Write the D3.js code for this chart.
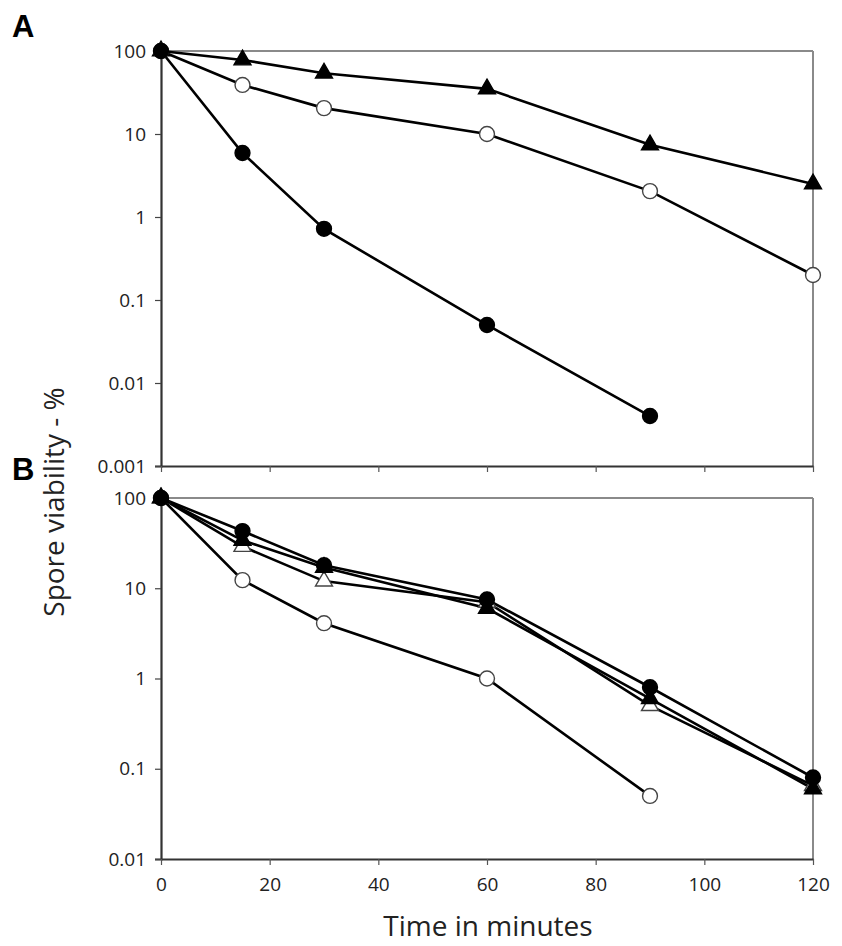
<!DOCTYPE html>
<html>
<head>
<meta charset="utf-8">
<script src="https://cdn.jsdelivr.net/npm/d3@7"></script>
<style>
	body { margin: 0; background: #fff; }
	svg text { font-family: "Open Sans", "Noto Sans", sans-serif; fill: #222; }
	.panel-label { font-family: "Liberation Sans", Arial, sans-serif; font-weight: bold; fill: #000; }
</style>
</head>
<body>
<svg id="chart" width="842" height="946"></svg>
<script>
// time points (minutes)
var times = [0, 15, 30, 60, 90, 120];

// panel A, % viability
var aTriangle = [100, 78, 54, 35, 7.4, 2.5];
var aOpenCircle = [100, 39, 20.5, 10, 2.05, 0.2];
var aFilledCircle = [100, 5.9, 0.72, 0.05, 0.004];

// panel B, % viability
var bOpenCircle = [100, 12.3, 4.1, 1, 0.05];
var bOpenTriangle = [100, 29, 12, 7, 0.5, 0.065];
var bFilledTriangle = [100, 34, 17, 6, 0.6, 0.06];
var bFilledCircle = [100, 43, 18, 7.5, 0.8, 0.08];

var xTicks = [0, 20, 40, 60, 80, 100, 120];
var aTickLabels = ['100', '10', '1', '0.1', '0.01', '0.001'];
var bTickLabels = ['100', '10', '1', '0.1', '0.01'];

(function(d3) {
	'use strict';

	var svg = d3.select('#chart');
	var x = d3.scaleLinear().domain([0, 120]).range([161, 813]);

	var pair = function(values) {
		return values.map(function(v, i) { return [times[i], v]; });
	};

	var drawPanel = function(cfg) {
		var y = d3.scaleLog().domain(cfg.domain).range([cfg.bottom, cfg.top]);
		var g = svg.append('g');

		// grey frame on top and right
		g.append('line').attr('x1', x(0)).attr('x2', x(120)).attr('y1', cfg.top).attr('y2', cfg.top)
			.attr('stroke', '#8a8a8a').attr('stroke-width', 2);
		g.append('line').attr('x1', x(120)).attr('x2', x(120)).attr('y1', cfg.top).attr('y2', cfg.bottom)
			.attr('stroke', '#8a8a8a').attr('stroke-width', 2);

		var yAxis = d3.axisLeft(y).tickValues(cfg.labels.map(Number)).tickSize(6).tickPadding(9)
			.tickFormat(function(d, i) { return cfg.labels[i]; });
		var ya = g.append('g').attr('transform', 'translate(' + x(0) + ',0)').call(yAxis);
		ya.select('.domain').attr('stroke', '#333').attr('stroke-width', 2.2);
		ya.selectAll('.tick line').attr('stroke', '#444').attr('stroke-width', 1.2);
		ya.selectAll('text').style('font-size', '19px').attr('fill', '#111');

		var xAxis = d3.axisBottom(x).tickValues(xTicks).tickSize(6).tickPadding(13)
			.tickSizeOuter(0);
		if (!cfg.xLabels) xAxis.tickFormat('');
		var xa = g.append('g').attr('transform', 'translate(0,' + cfg.bottom + ')').call(xAxis);
		xa.select('.domain').attr('stroke', '#333').attr('stroke-width', 2.2);
		xa.selectAll('.tick line').attr('stroke', '#555').attr('stroke-width', 1.2);
		xa.selectAll('text').style('font-size', '19px').attr('fill', '#111');

		var line = d3.line().x(function(d) { return x(d[0]); }).y(function(d) { return y(d[1]); });

		cfg.series.forEach(function(s) {
			var pts = pair(s.values);
			g.append('path').datum(pts).attr('d', line)
				.attr('fill', 'none').attr('stroke', '#000').attr('stroke-width', 2.6);
		});
		cfg.series.forEach(function(s) {
			var pts = pair(s.values);
			var sym = d3.symbol().type(s.shape === 'circle' ? d3.symbolCircle : d3.symbolTriangle)
				.size(s.shape === 'circle' ? 175 : 125);
			g.selectAll(null).data(pts).enter().append('path')
				.attr('d', sym)
				.attr('transform', function(d) { return 'translate(' + x(d[0]) + ',' + y(d[1]) + ')'; })
				.attr('fill', s.filled ? '#000' : '#fff')
				.attr('stroke', s.filled ? '#000' : '#444')
				.attr('stroke-width', 1.4);
		});

		svg.append('text').attr('class', 'panel-label')
			.attr('x', 12).attr('y', cfg.labelY)
			.style('font-size', '31px').text(cfg.name);
	};

	drawPanel({
		name: 'A', labelY: 37, top: 51, bottom: 466, domain: [0.001, 100],
		labels: aTickLabels, xLabels: false,
		series: [
			{ values: aTriangle, shape: 'triangle', filled: true },
			{ values: aOpenCircle, shape: 'circle', filled: false },
			{ values: aFilledCircle, shape: 'circle', filled: true }
		]
	});

	drawPanel({
		name: 'B', labelY: 480, top: 498, bottom: 859, domain: [0.01, 100],
		labels: bTickLabels, xLabels: true,
		series: [
			{ values: bOpenCircle, shape: 'circle', filled: false },
			{ values: bOpenTriangle, shape: 'triangle', filled: false },
			{ values: bFilledTriangle, shape: 'triangle', filled: true },
			{ values: bFilledCircle, shape: 'circle', filled: true }
		]
	});

	// axis titles
	svg.append('text')
		.attr('transform', 'translate(64,502) rotate(-90)')
		.attr('text-anchor', 'middle')
		.style('font-size', '28px').attr('fill', '#111')
		.text('Spore viability - %');
	svg.append('text')
		.attr('x', 488).attr('y', 936)
		.attr('text-anchor', 'middle')
		.style('font-size', '28px').attr('fill', '#111')
		.text('Time in minutes');
})(d3);
</script>
</body>
</html>
